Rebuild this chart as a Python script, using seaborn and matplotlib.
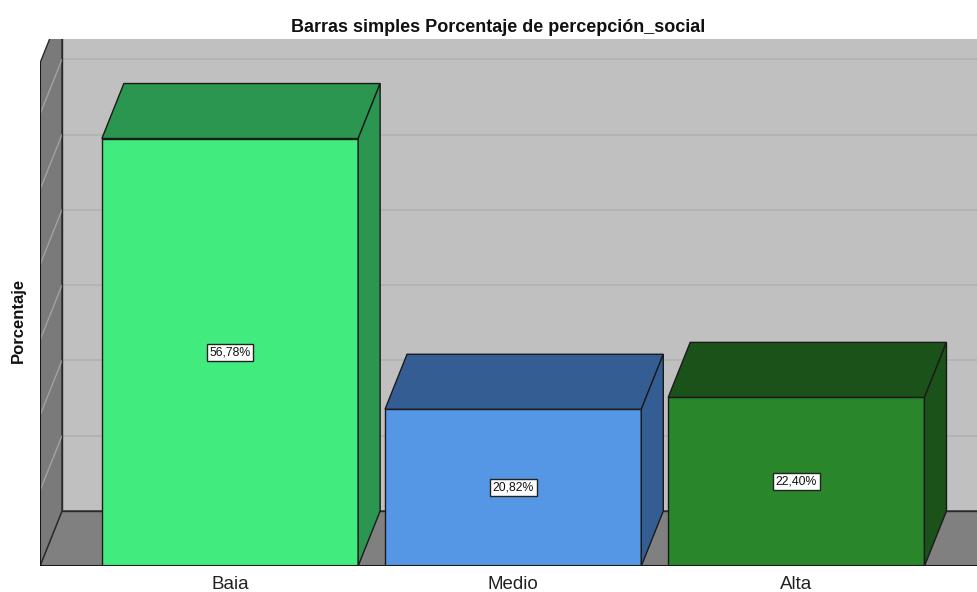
import matplotlib
matplotlib.use("Agg")
import matplotlib.pyplot as plt
import pandas as pd
import seaborn as sns

categories = ["Baia", "Medio", "Alta"]
percentages = [56.78, 20.82, 22.40]
value_labels = ["56,78%", "20,82%", "22,40%"]
front_colors = ["#42EB7E", "#5596E5", "#2A862A"]
shade_colors = ["#2A9650", "#345E93", "#1A5219"]
grid_values = [10, 20, 30, 40, 50, 60, 70]

sns.set_style("white")
plt.rcParams["font.family"] = ["Liberation Sans", "DejaVu Sans"]

W, H = 977, 592
fig = plt.figure(figsize=(W / 100, H / 100), dpi=100)
ax = fig.add_axes([40 / W, 26 / H, 937 / W, 527 / H])

X_MIN, X_MAX = -0.671, 2.638
Y_MAX = 70
WALL_TOP = 66.8
DX = 22 / 283.2
DY = 55 / 7.53

df = pd.DataFrame({"categoria": categories, "porcentaje": percentages})
sns.barplot(
    data=df, x="categoria", y="porcentaje", hue="categoria",
    palette=front_colors, width=0.905, edgecolor="#1a1a1a", linewidth=1,
    saturation=1, legend=False, ax=ax, zorder=3,
)

# 3d faces of bars
for i, container in enumerate(ax.containers):
    bar = container[0]
    x0 = bar.get_x()
    x1 = x0 + bar.get_width()
    h = bar.get_height()
    ax.fill([x0, x1, x1 + DX, x0 + DX], [h, h, h + DY, h + DY],
            color=shade_colors[i], ec="#1a1a1a", lw=1, zorder=3)
    ax.fill([x1, x1 + DX, x1 + DX, x1], [0, DY, h + DY, h],
            color=shade_colors[i], ec="#1a1a1a", lw=1, zorder=3)
    ax.text((x0 + x1) / 2, h / 2, value_labels[i], ha="center", va="center",
            fontsize=8.8, color="#111111", zorder=5,
            bbox=dict(boxstyle="square,pad=0.22", fc="white", ec="#222222", lw=1))

# back wall, floor and side wall
ax.fill([X_MIN + DX, X_MAX + 1, X_MAX + 1, X_MIN + DX],
        [DY, DY, Y_MAX + 20, Y_MAX + 20], color="#C0C0C0", lw=0, zorder=0)
ax.fill([X_MIN, X_MAX + 1, X_MAX + 1 + DX, X_MIN + DX], [0, 0, DY, DY],
        color="#808080", ec="#2a2a2a", lw=1, zorder=1)
ax.fill([X_MIN, X_MIN + DX, X_MIN + DX, X_MIN], [0, DY, WALL_TOP + DY, WALL_TOP],
        color="#7A7A7A", ec="#2a2a2a", lw=1, zorder=1)
for v in grid_values:
    ax.plot([X_MIN + DX, X_MAX + 1], [v + DY, v + DY], color="#B2B2B2", lw=1.3, zorder=0.5)
    if v < WALL_TOP:
        ax.plot([X_MIN, X_MIN + DX], [v, v + DY], color="#A2A2A2", lw=1, zorder=1.5)
ax.plot([X_MIN + DX, X_MIN + DX], [DY, Y_MAX + 20], color="#2a2a2a", lw=1, zorder=1.6)
ax.plot([X_MIN + DX, X_MAX + 1], [DY, DY], color="#2a2a2a", lw=1, zorder=1.6)
ax.plot([X_MIN, X_MIN], [0, WALL_TOP], color="#1a1a1a", lw=1.5, zorder=4)
ax.plot([X_MIN, X_MAX], [0, 0], color="#1a1a1a", lw=1.5, zorder=4)

ax.set_xlim(X_MIN, X_MAX)
ax.set_ylim(0, Y_MAX)
ax.set_yticks([])
ax.set_xticks(range(len(categories)))
ax.set_xticklabels(categories, fontsize=13.5, color="#222222")
ax.tick_params(axis="x", length=0, pad=7)
ax.set_xlabel("")
ax.set_ylabel("")
for s in ax.spines.values():
    s.set_visible(False)

fig.text(498 / W, 1 - 28 / H, "Barras simples Porcentaje de percepción_social",
         ha="center", va="center", fontsize=13, weight="bold", color="#111111")
fig.text(18 / W, 1 - 320 / H, "Porcentaje", rotation=90, ha="center",
         va="center", fontsize=12, weight="bold", color="#111111")

fig.savefig("out.png", dpi=100)
plt.close(fig)
